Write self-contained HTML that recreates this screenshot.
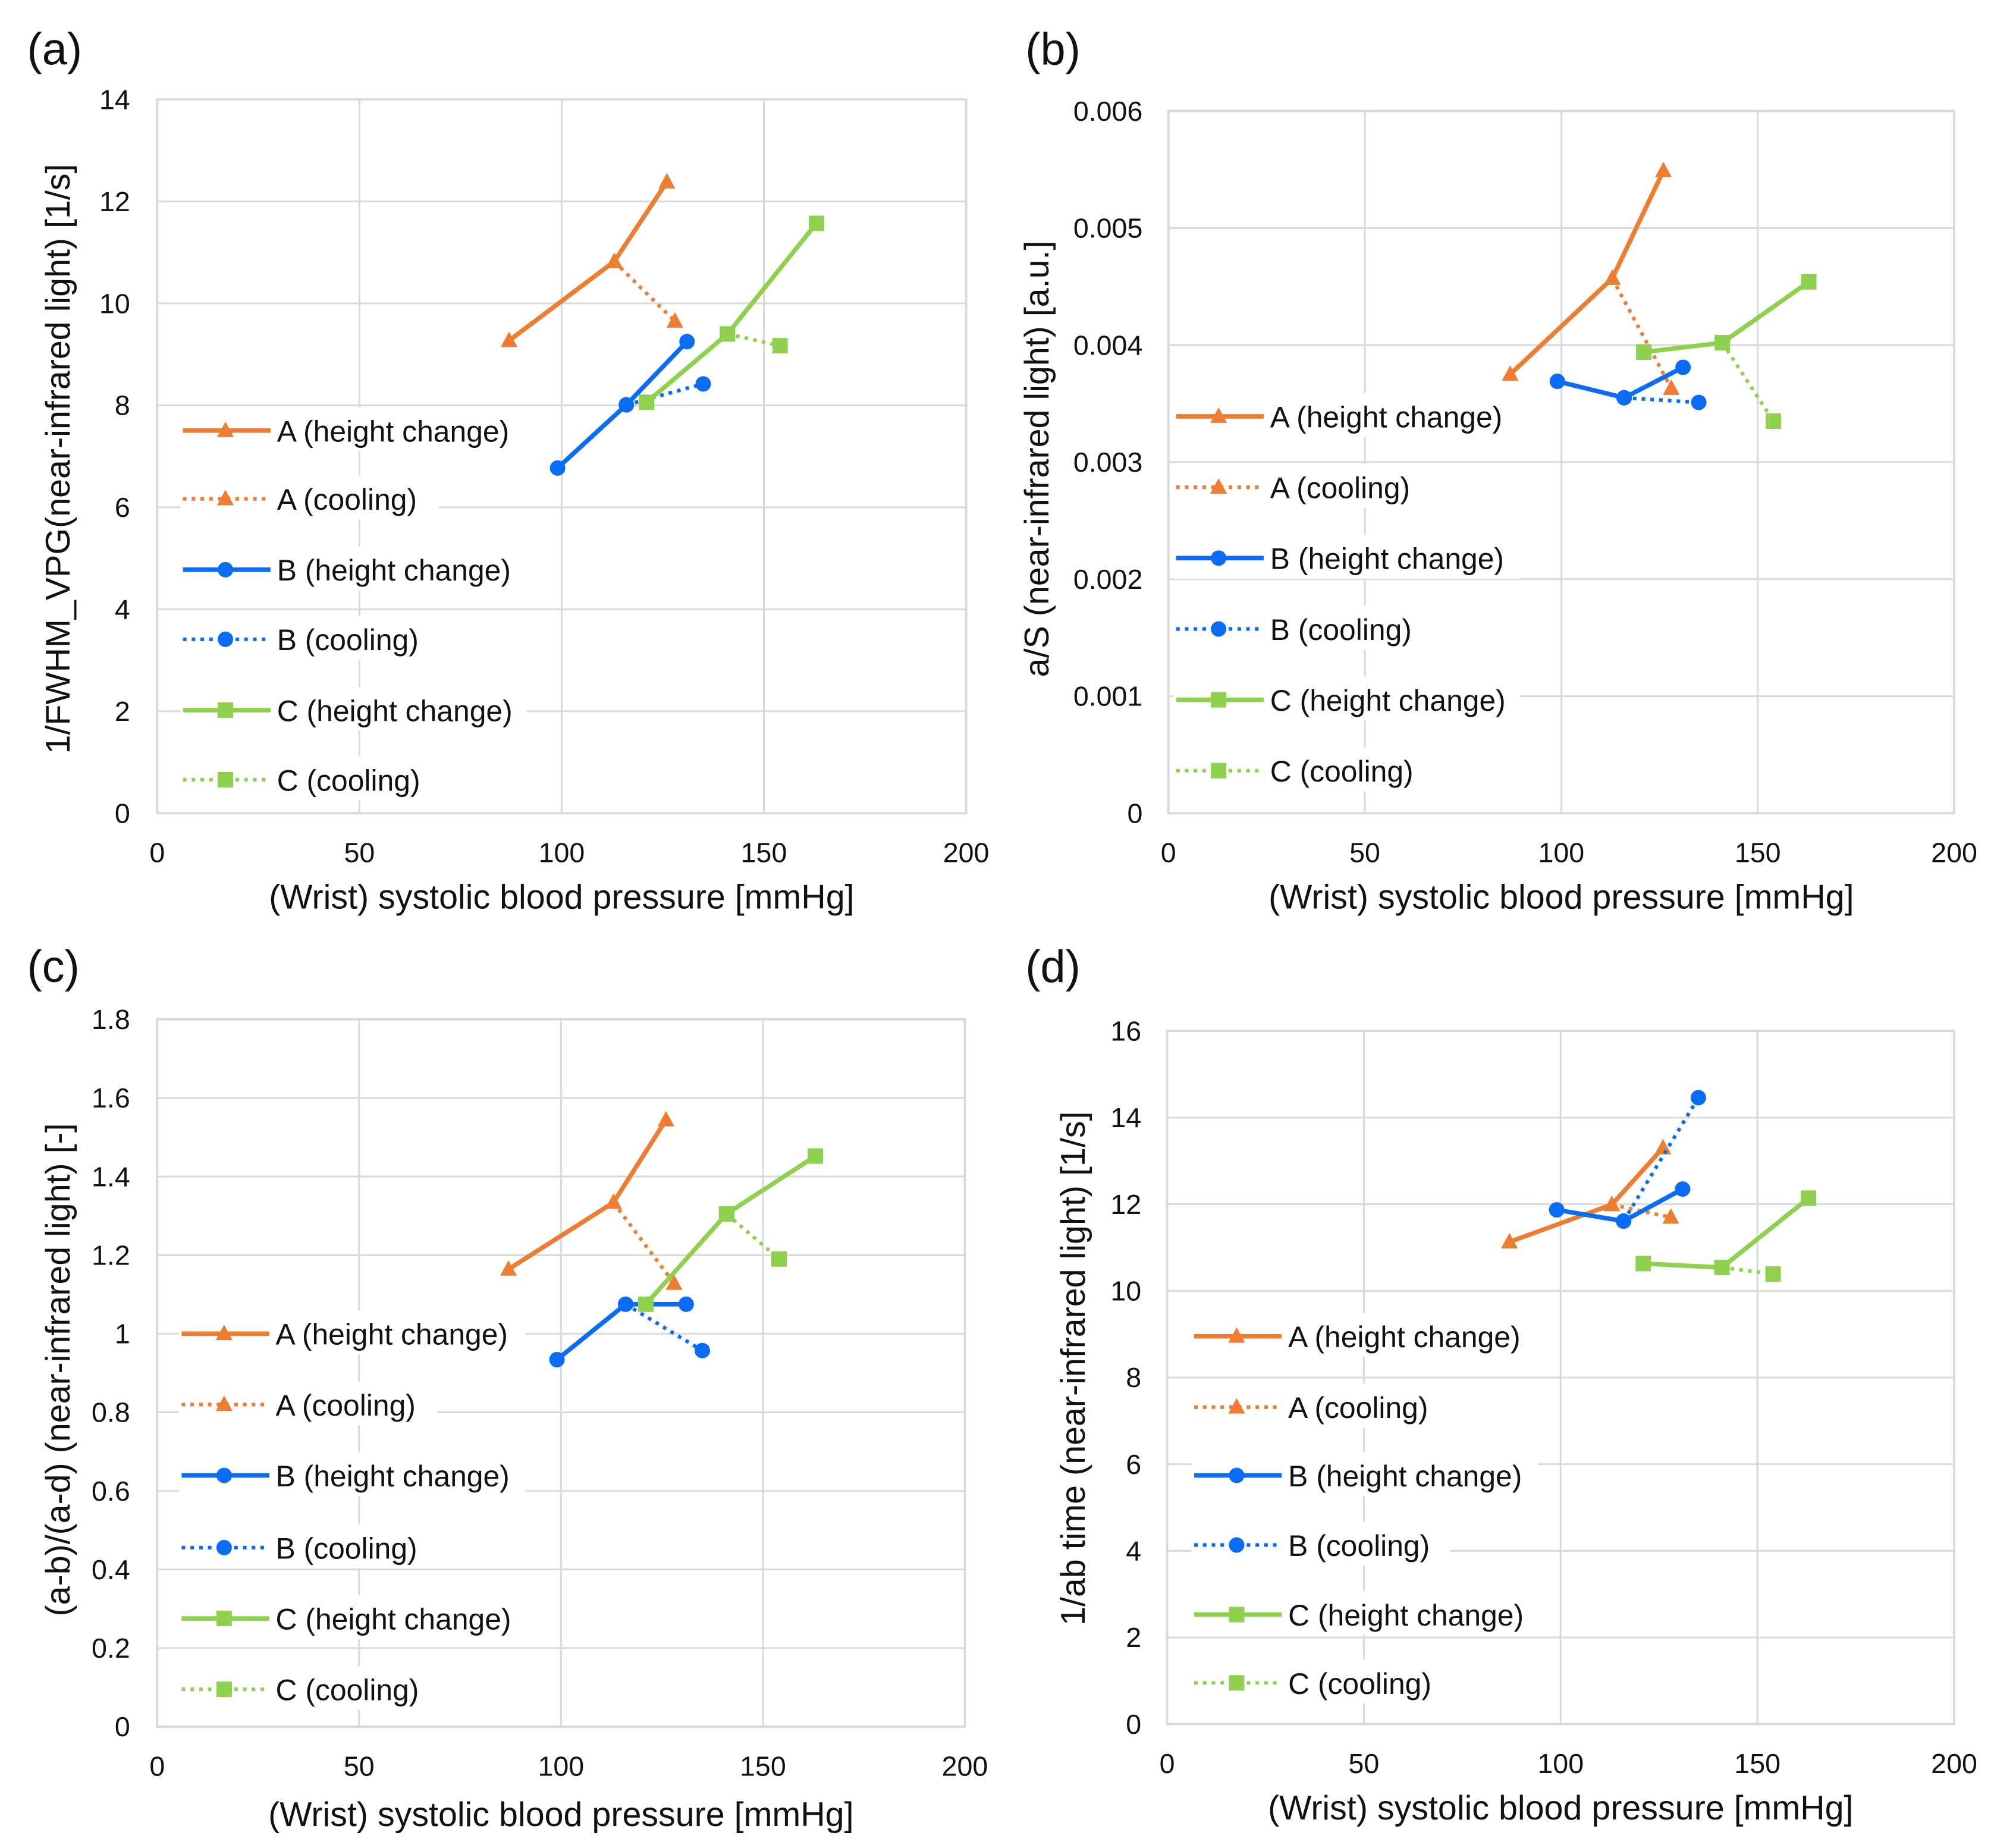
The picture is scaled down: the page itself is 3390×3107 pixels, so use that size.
<!DOCTYPE html>
<html><head><meta charset="utf-8">
<style>
html,body{margin:0;padding:0;background:#fff;}
svg{display:block;}
text{font-family:"Liberation Sans",Arial,sans-serif;fill:#111;}
</style></head>
<body>
<svg id="fig" width="3390" height="3107" viewBox="0 0 1565 1434" xmlns="http://www.w3.org/2000/svg"></svg>
<script>
// Shared x values (wrist systolic BP, mmHg)
const xAH = [87, 113, 126];
const xAC = [113, 128];
const xBH = [99, 116, 131];
const xBC = [116, 135];
const xCH = [121, 141, 163];
const xCC = [141, 154];
// Panel (a)
const aAH = [9.27, 10.82, 12.38];
const aAC = [10.82, 9.65];
const aBH = [6.77, 8.01, 9.25];
const aBC = [8.01, 8.42];
const aCH = [8.06, 9.40, 11.57];
const aCC = [9.40, 9.17];
const aYTicks = ["0","2","4","6","8","10","12","14"];
// Panel (b)
const bAH = [0.00375, 0.00457, 0.00549];
const bAC = [0.00457, 0.00363];
const bBH = [0.00369, 0.00355, 0.00381];
const bBC = [0.00355, 0.00351];
const bCH = [0.00394, 0.00402, 0.00454];
const bCC = [0.00402, 0.00335];
const bYTicks = ["0","0.001","0.002","0.003","0.004","0.005","0.006"];
// Panel (c)
const cAH = [1.164, 1.334, 1.544];
const cAC = [1.334, 1.128];
const cBH = [0.934, 1.075, 1.075];
const cBC = [1.075, 0.957];
const cCH = [1.075, 1.305, 1.452];
const cCC = [1.305, 1.19];
const cYTicks = ["0","0.2","0.4","0.6","0.8","1","1.2","1.4","1.6","1.8"];
// Panel (d)
const dAH = [11.13, 11.99, 13.3];
const dAC = [11.99, 11.70];
const dBH = [11.87, 11.61, 12.35];
const dBC = [11.61, 14.46];
const dCH = [10.63, 10.54, 12.14];
const dCC = [10.54, 10.39];
const dYTicks = ["0","2","4","6","8","10","12","14","16"];
const xTicks = ["0","50","100","150","200"];
const legendLabels = ["A (height change)","A (cooling)","B (height change)","B (cooling)","C (height change)","C (cooling)"];

const NS="http://www.w3.org/2000/svg";
const svg=document.getElementById('fig');
const ORANGE="#ED7D31", BLUE="#0A6CF5", GREEN="#8FD14F";
function mk(tag,attrs,parent){const e=document.createElementNS(NS,tag);for(const k in attrs)e.setAttribute(k,attrs[k]);(parent||svg).appendChild(e);return e;}

function marker(g,type,cx,cy,color){
  let m;
  if(type==='tri'){m=mk('polygon',{points:`${cx},${cy-7} ${cx-6.5},${cy+5} ${cx+6.5},${cy+5}`,fill:color},g);}
  else if(type==='circ'){m=mk('circle',{cx:cx,cy:cy,r:6,fill:color},g);}
  else {m=mk('rect',{x:cx-6,y:cy-6,width:12,height:12,fill:color},g);}
  
  
}

function panel(p){
  const g=mk('g',{});
  
  
  const L=p.L,R=p.R,T=p.T,B=p.B;
  const ymax=parseFloat(p.yt[p.yt.length-1]);
  const sx=v=>L+(v/200)*(R-L);
  const sy=v=>B-(v/ymax)*(B-T);
  p.yt.forEach((t,i)=>{
    const y=sy(parseFloat(t));
    const l=mk('line',{x1:L,x2:R,y1:y,y2:y,stroke:'#d9d9d9','stroke-width':1.4},g);
    
    
    const tx=mk('text',{x:p.tickX,y:y+7.5,'text-anchor':'end','font-size':21.5},g);
    tx.textContent=t;
    
    
  });
  xTicks.forEach(t=>{
    const x=sx(parseFloat(t));
    const l=mk('line',{x1:x,x2:x,y1:T,y2:B,stroke:'#d9d9d9','stroke-width':1.4},g);
    
    
    const tx=mk('text',{x:x,y:B+38,'text-anchor':'middle','font-size':21.5},g);
    tx.textContent=t;
    
    
  });
  const fr=mk('rect',{x:L,y:T,width:R-L,height:B-T,fill:'none',stroke:'#d9d9d9','stroke-width':1.8},g);
  
  
  const specs=[[ORANGE,'tri',false],[ORANGE,'tri',true],[BLUE,'circ',false],[BLUE,'circ',true],[GREEN,'sq',false],[GREEN,'sq',true]];
  specs.forEach((s,i)=>{
    const y=p.legY[i];
    const lg=mk('g',{},g);
    
    
    const tw=legendLabels[i].length*11.4;
    mk('rect',{x:p.legX-2,y:y-18,width:75+tw,height:34,fill:'#fff'},lg);
    mk('line',{x1:p.legX,x2:p.legX+68,y1:y,y2:y,stroke:s[0],'stroke-width':s[2]?2.8:3.5,'stroke-dasharray':s[2]?'2.8 4':'none'},lg);
    marker(lg,s[1],p.legX+33,y,s[0]);
    const t=mk('text',{x:p.legX+73,y:y+8.5,'font-size':23},lg);
    t.textContent=legendLabels[i];
  });
  const ser=[[xAH,p.AH,ORANGE,'tri',false,'series-a-height'],[xAC,p.AC,ORANGE,'tri',true,'series-a-cooling'],
             [xBH,p.BH,BLUE,'circ',false,'series-b-height'],[xBC,p.BC,BLUE,'circ',true,'series-b-cooling'],
             [xCH,p.CH,GREEN,'sq',false,'series-c-height'],[xCC,p.CC,GREEN,'sq',true,'series-c-cooling']];
  ser.forEach(s=>{
    const sg=mk('g',{},g);
    
    
    const pts=s[0].map((x,i)=>sx(x)+','+sy(s[1][i])).join(' ');
    mk('polyline',{points:pts,fill:'none',stroke:s[2],'stroke-width':s[4]?2.8:3.5,'stroke-dasharray':s[4]?'2.8 4':'none'},sg);
    s[0].forEach((x,i)=>marker(sg,s[3],sx(x),sy(s[1][i]),s[2]));
  });
  const xt=mk('text',{x:(L+R)/2,y:p.xTitleY,'text-anchor':'middle','font-size':26.5},g);
  xt.textContent='(Wrist) systolic blood pressure [mmHg]';
  
  
  const yt=mk('text',{x:0,y:0,'text-anchor':'middle','font-size':26.5,transform:`translate(${p.yTitleX},${p.yTitleC}) rotate(-90)`},g);
  yt.textContent=p.ytitle;
  
  
  const pl=mk('text',{x:p.labX,y:p.labY,'font-size':35},g);
  pl.textContent='('+p.id+')';
  
  
}

panel({id:'a',L:122,R:750,T:77,B:631,yt:aYTicks,tickX:101,AH:aAH,AC:aAC,BH:aBH,BC:aBC,CH:aCH,CC:aCC,
  legX:142,legY:[334,387,442,496,551,605],xTitleY:705,yTitleX:54,yTitleC:356,ytitle:'1/FWHM_VPG(near-infrared light) [1/s]',labX:21,labY:50});
panel({id:'b',L:907,R:1517,T:86,B:631,yt:bYTicks,tickX:887,AH:bAH,AC:bAC,BH:bBH,BC:bBC,CH:bCH,CC:bCC,
  legX:913,legY:[323,378,433,488,543,598],xTitleY:705,yTitleX:814,yTitleC:356,ytitle:'a/S (near-infrared light) [a.u.]',labX:796,labY:50});
panel({id:'c',L:122,R:749,T:791,B:1340,yt:cYTicks,tickX:101,AH:cAH,AC:cAC,BH:cBH,BC:cBC,CH:cCH,CC:cCC,
  legX:141,legY:[1035,1090,1145,1201,1256,1311],xTitleY:1417,yTitleX:54,yTitleC:1063,ytitle:'(a-b)/(a-d) (near-infrared light) [-]',labX:21,labY:762});
panel({id:'d',L:906,R:1517,T:800,B:1338,yt:dYTicks,tickX:886,AH:dAH,AC:dAC,BH:dBH,BC:dBC,CH:dCH,CC:dCC,
  legX:927,legY:[1037,1092,1145,1199,1253,1306],xTitleY:1412,yTitleX:842,yTitleC:1062,ytitle:'1/ab time (near-infrared light) [1/s]',labX:796,labY:762});
</script>
</body></html>
